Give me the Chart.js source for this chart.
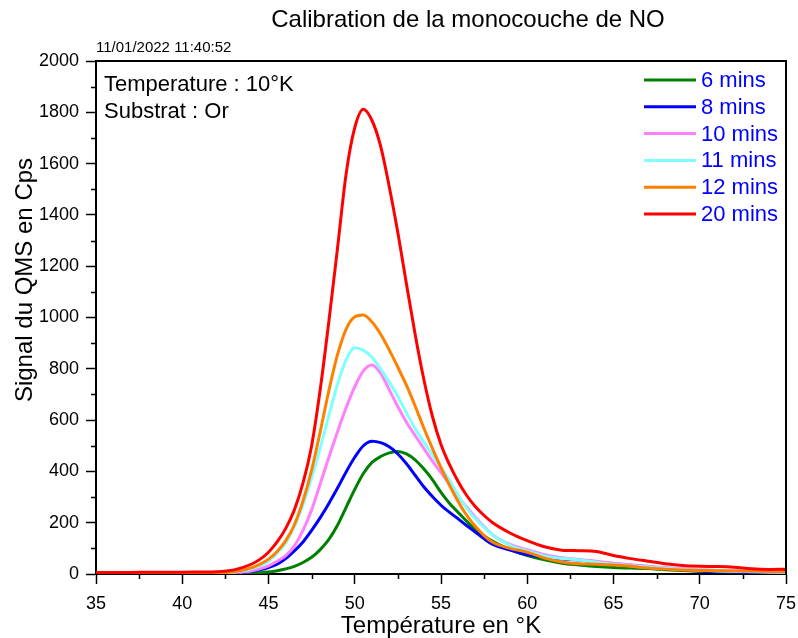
<!DOCTYPE html>
<html>
<head>
<meta charset="utf-8">
<script src="https://cdn.jsdelivr.net/npm/chart.js@4.4.1/dist/chart.umd.min.js"></script>
<style>
  html, body { margin: 0; padding: 0; background: #fff; }
</style>
</head>
<body>
<canvas id="chart-tpd" width="798" height="638"></canvas>
<script>
// temperatures (°K) shared by every series
const temperatures = [
  35, 36, 37, 38, 39, 40, 41, 42, 43,
  44, 44.5, 45, 45.5, 46, 46.5, 47, 47.5, 48, 48.5, 49, 49.5, 50, 50.5, 51, 51.5,
  52, 52.5, 53, 53.5, 54, 54.5, 55, 55.5, 56, 56.5, 57, 57.5, 58,
  59, 60, 61, 62, 63, 64, 65, 66, 67, 68, 69, 70, 71, 72, 73, 74, 75,
];

const seriesLabels = ["6 mins", "8 mins", "10 mins", "11 mins", "12 mins", "20 mins"];

const signal6 = [
  2, 2, 2, 2, 2, 2, 2, 2, 2,
  3, 5, 8, 13, 20, 30, 45, 65, 95, 135, 190, 260, 330, 392, 435, 458,
  472, 478, 468, 445, 410, 368, 318, 275, 240, 205, 172, 148, 127,
  95, 72, 55, 42, 35, 29, 25, 23, 21, 17, 14, 11, 9, 8, 6, 5, 5,
];
const signal8 = [
  3, 3, 3, 3, 3, 3, 3, 4, 6,
  10, 16, 25, 38, 60, 90, 125, 170, 220, 275, 335, 398, 455, 500, 518, 512,
  496, 468, 430, 385, 340, 302, 268, 240, 215, 188, 163, 137, 115,
  93, 75, 65, 58, 55, 47, 40, 34, 28, 22, 16, 12, 9, 7, 5, 4, 3,
];
const signal10 = [
  3, 3, 3, 3, 3, 3, 3, 4, 6,
  12, 20, 32, 50, 72, 110, 170, 250, 352, 455, 555, 648, 730, 792, 815, 782,
  718, 652, 592, 540, 490, 440, 395, 350, 300, 260, 220, 185, 152,
  115, 95, 75, 63, 56, 50, 42, 36, 30, 25, 20, 17, 14, 12, 10, 8, 7,
];
const signal11 = [
  3, 3, 3, 4, 4, 4, 4, 5, 8,
  20, 33, 50, 82, 122, 185, 270, 375, 492, 618, 740, 835, 882, 872, 845, 800,
  748, 692, 628, 567, 515, 465, 415, 365, 305, 255, 215, 182, 152,
  112, 90, 70, 60, 55, 46, 38, 32, 27, 22, 18, 15, 12, 10, 9, 8, 7,
];
const signal12 = [
  3, 3, 4, 4, 4, 4, 5, 5, 9,
  24, 38, 58, 88, 130, 192, 285, 405, 555, 715, 855, 955, 1003, 1010, 982, 935,
  874, 806, 735, 655, 570, 490, 415, 345, 282, 228, 185, 150, 124,
  100, 85, 62, 47, 40, 38, 35, 30, 23, 19, 16, 14, 13, 12, 11, 10, 10,
];
const signal20 = [
  5, 6, 6, 7, 7, 7, 8, 9, 16,
  38, 57, 85, 125, 178, 250, 355, 500, 720, 985, 1270, 1560, 1740, 1812, 1768, 1668,
  1510, 1330, 1130, 935, 760, 615, 505, 425, 360, 305, 262, 228, 200,
  160, 130, 106, 93, 91, 88, 72, 60, 50, 40, 33, 30, 29, 26, 20, 18, 19,
];

const seriesValues = [signal6, signal8, signal10, signal11, signal12, signal20];
const seriesColors = ["#008000", "#0000ff", "#ff80ff", "#80ffff", "#ff8000", "#ff0000"];

const FONT = "Arial, 'Liberation Sans', sans-serif";

// bordure haut/droite + petites graduations
const framePlugin = {
  id: "frame",
  afterDraw(chart) {
    const { ctx, chartArea, scales } = chart;
    ctx.save();
    ctx.strokeStyle = "#000";
    ctx.lineWidth = 2;
    ctx.beginPath();
    ctx.moveTo(chartArea.left, chartArea.top);
    ctx.lineTo(chartArea.right, chartArea.top);
    ctx.lineTo(chartArea.right, chartArea.bottom);
    ctx.stroke();

    ctx.lineWidth = 1.5;
    ctx.beginPath();
    for (let v = 100; v < 2000; v += 200) {
      const y = Math.round(scales.y.getPixelForValue(v)) + 0.5;
      ctx.moveTo(chartArea.left - 5, y);
      ctx.lineTo(chartArea.left, y);
    }
    for (let t = 37.5; t < 75; t += 5) {
      const x = Math.round(scales.x.getPixelForValue(t)) + 0.5;
      ctx.moveTo(x, chartArea.bottom);
      ctx.lineTo(x, chartArea.bottom + 5);
    }
    ctx.stroke();
    ctx.restore();
  },
};

// titre, textes et légende
const textPlugin = {
  id: "texts",
  afterDraw(chart) {
    const { ctx } = chart;
    ctx.save();
    ctx.fillStyle = "#000";
    ctx.textBaseline = "middle";

    ctx.font = "24px " + FONT;
    ctx.textAlign = "center";
    ctx.fillText("Calibration de la monocouche de NO", 468, 20);

    ctx.font = "15px " + FONT;
    ctx.textAlign = "left";
    ctx.fillText("11/01/2022 11:40:52", 96, 48);

    ctx.textBaseline = "alphabetic";
    ctx.font = "22px " + FONT;
    ctx.fillText("Temperature : 10°K", 104, 91);
    ctx.fillText("Substrat : Or", 104, 118);

    // titre axe Y
    ctx.save();
    ctx.translate(25, 280);
    ctx.rotate(-Math.PI / 2);
    ctx.textAlign = "center";
    ctx.textBaseline = "middle";
    ctx.font = "24px " + FONT;
    ctx.fillText("Signal du QMS en Cps", 0, 0);
    ctx.restore();

    // légende
    ctx.font = "22px " + FONT;
    ctx.lineWidth = 3;
    seriesLabels.forEach((label, i) => {
      const base = 87 + i * 26.8;
      ctx.strokeStyle = seriesColors[i];
      ctx.beginPath();
      ctx.moveTo(644, base - 7);
      ctx.lineTo(696, base - 7);
      ctx.stroke();
      ctx.fillStyle = "#0000ff";
      ctx.fillText(label, 701, base);
    });
    ctx.restore();
  },
};

const datasets = seriesLabels.map((label, i) => ({
  label: label,
  data: temperatures.map((t, k) => ({ x: t, y: seriesValues[i][k] })),
  borderColor: seriesColors[i],
  backgroundColor: seriesColors[i],
  borderWidth: 3,
  pointRadius: 0,
  cubicInterpolationMode: "monotone",
  order: seriesLabels.length - i,
}));

const ctx = document.getElementById("chart-tpd").getContext("2d");
new Chart(ctx, {
  type: "line",
  data: { datasets: datasets },
  plugins: [framePlugin, textPlugin],
  options: {
    responsive: false,
    animation: false,
    layout: { padding: { top: 61, right: 12, left: 0, bottom: 0 } },
    plugins: {
      legend: { display: false },
      tooltip: { enabled: false },
    },
    scales: {
      x: {
        type: "linear",
        min: 35,
        max: 75,
        afterFit: (scale) => {
          scale.height = 64;
          scale.paddingLeft = 0;
          scale.paddingRight = 0;
        },
        ticks: {
          stepSize: 5,
          padding: 9,
          color: "#000",
          font: { family: FONT, size: 18 },
        },
        grid: {
          drawOnChartArea: false,
          tickLength: 10,
          tickColor: "#000",
          tickWidth: 1.5,
        },
        border: { color: "#000", width: 2 },
        title: {
          display: true,
          text: "Température en °K",
          color: "#000",
          font: { family: FONT, size: 24, lineHeight: 1 },
          padding: { top: 0, bottom: 0 },
        },
      },
      y: {
        min: 0,
        max: 2000,
        afterFit: (scale) => {
          scale.width = 96;
          scale.paddingTop = 0;
          scale.paddingBottom = 0;
        },
        ticks: {
          stepSize: 200,
          padding: 7,
          color: "#000",
          font: { family: FONT, size: 18 },
          callback: (v) => String(v),
        },
        grid: {
          drawOnChartArea: false,
          tickLength: 10,
          tickColor: "#000",
          tickWidth: 1.5,
        },
        border: { color: "#000", width: 2 },
      },
    },
  },
});
</script>
</body>
</html>
